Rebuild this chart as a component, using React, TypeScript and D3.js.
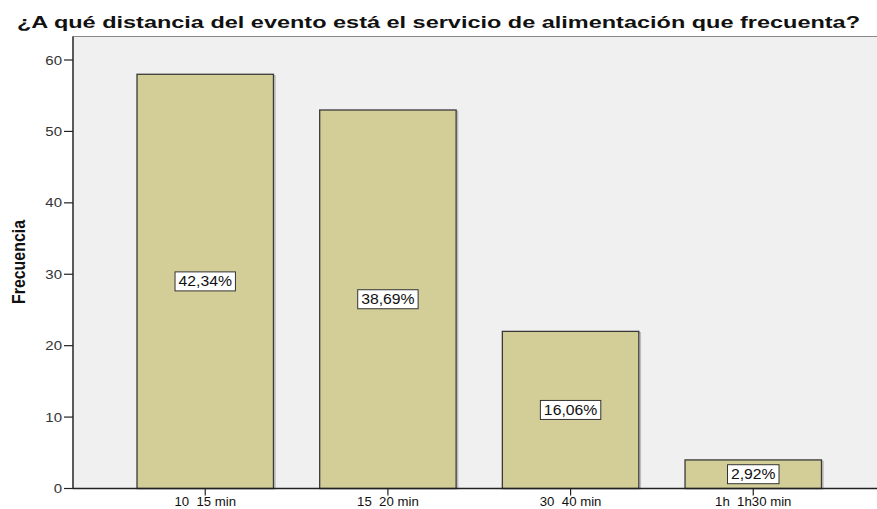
import React from "react";
import * as d3 from "d3";

const categories = ["10  15 min", "15  20 min", "30  40 min", "1h  1h30 min"];
const frequencies = [58, 53, 22, 4];
const percentLabels = ["42,34%", "38,69%", "16,06%", "2,92%"];
const yTicks = [0, 10, 20, 30, 40, 50, 60];
const title = "¿A qué distancia del evento está el servicio de alimentación que frecuenta?";
const yTitle = "Frecuencia";

const W = 877;
const H = 509;
const FONT = "'Liberation Sans', Arial, sans-serif";

export default function App() {
  const left = 73;
  const top = 36.5;
  const base = 488.5;
  const x = d3.scaleBand<string>().domain(categories).range([left, 885.5]).paddingInner(0.253).paddingOuter(0.3504);
  const y = d3.scaleLinear().domain([0, 60]).range([base, 60]);

  return (
    <svg width={W} height={H} style={{ position: "absolute", left: 0, top: 0, background: "#fff" }} fontFamily={FONT}>
      <rect x={0} y={0} width={W} height={H} fill="#ffffff" />
      <text x={17} y={28} fontSize={17} fontWeight="bold" fill="#111" textLength={843} lengthAdjust="spacingAndGlyphs">
        {title}
      </text>
      <rect x={left} y={top} width={W - left + 5} height={base - top} fill="#f0f0f0" stroke="#8a8a8a" strokeWidth={1} />
      {categories.map((c, i) => {
        const bx = x(c)!;
        const bw = x.bandwidth();
        const by = y(frequencies[i]);
        const cx = bx + bw / 2;
        const cy = (by + base) / 2;
        const bwBox = percentLabels[i].length * 8.9 + 7;
        return (
          <g key={c}>
            <rect x={bx + 1.5} y={by + 1.5} width={bw} height={base - by - 1.5} fill="none" stroke="#bdbdbd" strokeWidth={1.5} />
            <rect x={bx} y={by} width={bw} height={base - by} fill="#d3ce97" stroke="#3a3a3a" strokeWidth={1.3} />
            <rect x={cx - bwBox / 2} y={cy - 9.5} width={bwBox} height={19} fill="#ffffff" stroke="#333" strokeWidth={1} />
            <text x={cx} y={cy + 5} fontSize={14} textAnchor="middle" fill="#111" textLength={bwBox - 7} lengthAdjust="spacingAndGlyphs">
              {percentLabels[i]}
            </text>
          </g>
        );
      })}
      <line x1={left} x2={W} y1={base} y2={base} stroke="#222" strokeWidth={1.3} />
      <line x1={left} x2={left} y1={top} y2={base} stroke="#222" strokeWidth={1.3} />
      {yTicks.map((t) => (
        <g key={t}>
          <line x1={left - 9} x2={left} y1={y(t)} y2={y(t)} stroke="#222" strokeWidth={1.2} />
          <text transform={`translate(${left - 11}, ${y(t) + 4.5}) scale(1.25, 1)`} fontSize={12} textAnchor="end" fill="#333">
            {t}
          </text>
        </g>
      ))}
      {categories.map((c) => {
        const cx = x(c)! + x.bandwidth() / 2;
        return (
          <g key={"t" + c}>
            <line x1={cx} x2={cx} y1={base} y2={base + 7} stroke="#222" strokeWidth={1.2} />
            <text transform={`translate(${cx}, ${base + 17}) scale(1.1, 1)`} fontSize={12} textAnchor="middle" fill="#111" style={{ whiteSpace: "pre" }}>
              {c}
            </text>
          </g>
        );
      })}
      <text
        transform={`translate(25, 262) scale(1.25, 1) rotate(-90)`}
        fontSize={15}
        fontWeight="bold"
        textAnchor="middle"
        fill="#111"
        textLength={84}
        lengthAdjust="spacingAndGlyphs"
      >
        {yTitle}
      </text>
    </svg>
  );
}
